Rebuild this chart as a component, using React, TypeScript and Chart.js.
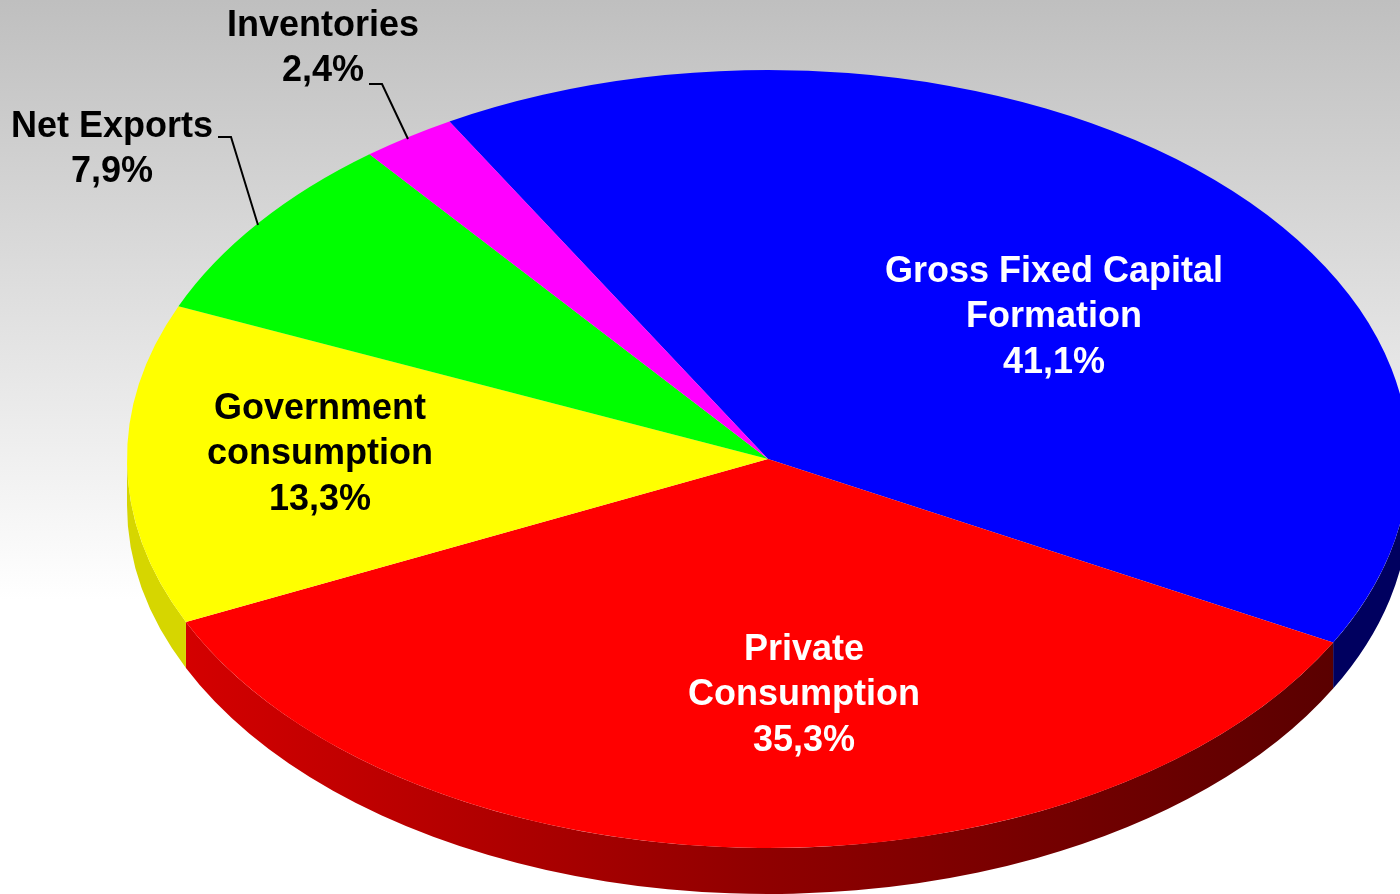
import React, { useEffect, useRef } from "react";
import { Chart, registerables } from "chart.js";

Chart.register(...registerables);

const categories = ["Gross Fixed Capital Formation", "Private Consumption", "Government consumption", "Net Exports", "Inventories"];
const shares = [41.1, 35.3, 13.3, 7.9, 2.4];
const topColors = ["#0000ff", "#ff0000", "#ffff00", "#00ff00", "#ff00ff"];
const wallColors = ["#00005f", "#a00000", "#d6d600", "#00a000", "#a000a0"];
const labelLines = [
  ["Gross Fixed Capital", "Formation", "41,1%"],
  ["Private", "Consumption", "35,3%"],
  ["Government", "consumption", "13,3%"],
  ["Net Exports", "7,9%"],
  ["Inventories", "2,4%"],
];
const labelColors = ["#ffffff", "#ffffff", "#000000", "#000000", "#000000"];
const labelCentres = [[1054, 270], [804, 648], [320, 407], [112, 125], [323, 24]];
const leaders = [
  [[218, 137], [231, 137], [258, 225]],
  [[369, 84], [382, 84], [408, 139]],
];

const W = 1400;
const H = 894;
const CX = 768;
const CY = 459;
const RADIUS = 641;
const SQUASH = 389 / 641;
const DEPTH = 46;
const LINE_H = 45.3;

const piePlugin = {
  id: "tiltedPie",
  beforeDraw(chart: any) {
    const { ctx } = chart;
    const g = ctx.createLinearGradient(0, 0, 0, 600);
    g.addColorStop(0, "#bfbfbf");
    g.addColorStop(1, "#ffffff");
    ctx.save();
    ctx.fillStyle = g;
    ctx.fillRect(0, 0, W, H);
    ctx.restore();
  },
  beforeDatasetsDraw(chart: any) {
    const { ctx } = chart;
    const arcs = chart.getDatasetMeta(0).data;
    const ry = RADIUS * SQUASH;
    arcs.forEach((arc: any, i: number) => {
      const s = Math.max(arc.startAngle, 0);
      const e = Math.min(arc.endAngle, Math.PI);
      if (e <= s) return;
      ctx.save();
      ctx.beginPath();
      ctx.ellipse(CX, CY, RADIUS, ry, 0, s, e, false);
      ctx.ellipse(CX, CY + DEPTH, RADIUS, ry, 0, e, s, true);
      ctx.closePath();
      if (i === 1) {
        const g = ctx.createLinearGradient(185, 0, 1335, 0);
        g.addColorStop(0, "#d40000");
        g.addColorStop(0.5, "#900000");
        g.addColorStop(1, "#5a0000");
        ctx.fillStyle = g;
      } else {
        ctx.fillStyle = wallColors[i];
      }
      ctx.fill();
      ctx.restore();
    });
    const first = arcs[0];
    ctx.save();
    ctx.translate(CX, CY);
    ctx.scale(1, SQUASH);
    ctx.translate(-first.x, -first.y);
  },
  afterDatasetsDraw(chart: any) {
    const { ctx } = chart;
    ctx.restore();
    ctx.save();
    ctx.strokeStyle = "#000000";
    ctx.lineWidth = 2;
    leaders.forEach((pts) => {
      ctx.beginPath();
      pts.forEach(([x, y], i) => (i ? ctx.lineTo(x, y) : ctx.moveTo(x, y)));
      ctx.stroke();
    });
    ctx.font = 'bold 36px "Liberation Sans", Arial, sans-serif';
    ctx.textAlign = "center";
    ctx.textBaseline = "middle";
    ctx.filter = "blur(0.4px)";
    labelLines.forEach((lines, i) => {
      ctx.fillStyle = labelColors[i];
      lines.forEach((t, j) => ctx.fillText(t, labelCentres[i][0], labelCentres[i][1] + 2 + j * LINE_H));
    });
    ctx.restore();
  },
};

export default function App() {
  const ref = useRef<HTMLCanvasElement>(null);
  useEffect(() => {
    document.body.style.margin = "0";
    const chart = new Chart(ref.current as HTMLCanvasElement, {
      type: "pie",
      data: {
        labels: categories,
        datasets: [{ data: shares, backgroundColor: topColors, borderWidth: 0, clip: false } as any],
      },
      options: {
        responsive: false,
        animation: false,
        rotation: -29.8,
        radius: RADIUS,
        plugins: { legend: { display: false }, tooltip: { enabled: false } },
      } as any,
      plugins: [piePlugin],
    });
    return () => chart.destroy();
  }, []);
  return <canvas ref={ref} width={W} height={H} style={{ display: "block" }} />;
}
